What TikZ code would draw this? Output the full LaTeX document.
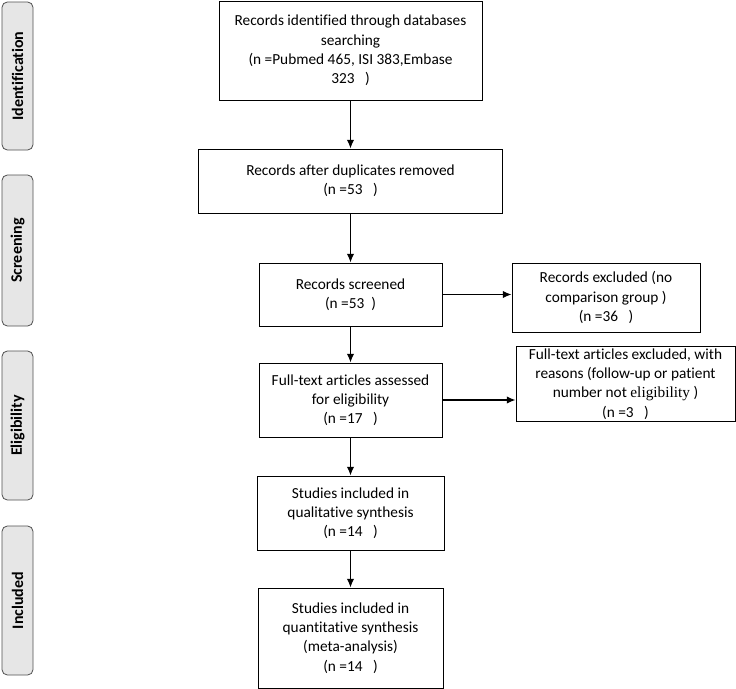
\documentclass[tikz,border=0pt]{standalone}
\usepackage{fontspec}
\setmainfont{Carlito}[Ligatures=NoCommon]
\newfontfamily\timesfont{Liberation Serif}
\usetikzlibrary{arrows.meta}

\definecolor{phasegray}{RGB}{230,230,230}
\definecolor{phaseline}{RGB}{80,80,80}

\tikzset{
	box/.style={draw, line width=0.75pt, align=center, inner sep=2pt,
		font=\fontsize{11.5}{14.4}\selectfont},
	phase/.style={draw=phaseline, fill=phasegray, rounded corners=4pt, line width=0.6pt,
		rotate=90, inner sep=0pt, font=\bfseries\fontsize{12}{14}\selectfont},
	link/.style={-{Latex[length=6.5pt, width=5.5pt]}, line width=0.9pt}
}

\begin{document}
\begin{tikzpicture}[x=0.75pt, y=-0.75pt]
	\useasboundingbox (0, 0) rectangle (736, 689);

	% phases on the left
	\node[phase, minimum width=111pt, minimum height=23.25pt] (ident) at (17.5, 76) {Identification};
	\node[phase, minimum width=113.25pt, minimum height=23.25pt] (screen) at (17.5, 250.5) {Screening};
	\node[phase, minimum width=111.75pt, minimum height=23.25pt] (elig) at (17.5, 425.5) {Eligibility};
	\node[phase, minimum width=111.75pt, minimum height=23.25pt] (incl) at (17.5, 600.5) {Included};

	% main column
	\node[box, minimum width=197.25pt, minimum height=74.25pt] (found) at (350.5, 50.5)
		{Records identified through databases\\searching\\(n =Pubmed 465, ISI 383,Embase\\323\ \ \ )};
	\node[box, minimum width=228pt, minimum height=48pt] (dedup) at (350.5, 181)
		{Records after duplicates removed\\(n =53\ \ \ )};
	\node[box, minimum width=137.25pt, minimum height=47.25pt] (screened) at (350.5, 294.5)
		{Records screened\\(n =53\ \ )};
	\node[box, minimum width=137.25pt, minimum height=55.5pt] (fulltext) at (350.5, 400)
		{Full-text articles assessed\\for eligibility\\(n =17\ \ \ )};
	\node[box, minimum width=140.25pt, minimum height=55.5pt] (quali) at (350.5, 513)
		{Studies included in\\qualitative synthesis\\(n =14\ \ \ )};
	\node[box, minimum width=138.75pt, minimum height=75pt] (quanti) at (350.5, 638)
		{Studies included in\\quantitative synthesis\\(meta-analysis)\\(n =14\ \ \ )};

	% exclusions on the right
	\node[box, minimum width=141pt, minimum height=51.75pt] (excl1) at (606, 297.5)
		{Records excluded (no\\comparison group )\\(n =36\ \ \ )};
	\node[box, minimum width=164.25pt, minimum height=51pt] (excl2) at (625.5, 384)
		{Full-text articles excluded, with\\reasons (follow-up or patient\\number not {\timesfont eligibility} )\\(n =3\ \ \ )};

	\draw[link] (found) -- (dedup);
	\draw[link] (dedup) -- (screened);
	\draw[link] (screened) -- (fulltext);
	\draw[link] (fulltext) -- (quali);
	\draw[link] (quali) -- (quanti);
	\draw[link] (screened.east) -- (screened.east -| excl1.west);
	\draw[link] (fulltext.east) -- (fulltext.east -| excl2.west);
\end{tikzpicture}
\end{document}
